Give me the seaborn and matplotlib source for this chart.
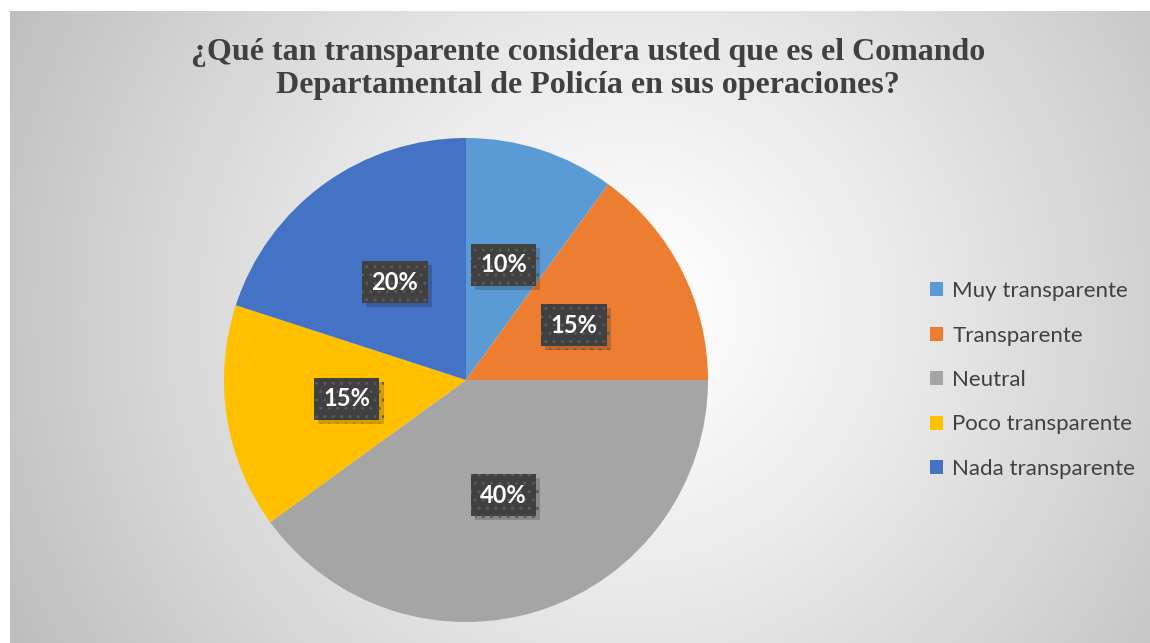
import matplotlib as mpl
import matplotlib.pyplot as plt
import matplotlib.patheffects as pe
from matplotlib.patches import Patch
import seaborn as sns
import numpy as np

sns.set_theme(style="white")
plt.rcParams['font.family'] = ['Lato', 'DejaVu Sans']

# Data
categories = ['Muy transparente', 'Transparente', 'Neutral', 'Poco transparente', 'Nada transparente']
values = [10, 15, 40, 15, 20]
colors = sns.color_palette(['#5B9BD5', '#ED7D31', '#A5A5A5', '#FFC000', '#4472C4'])
title = '¿Qué tan transparente considera usted que es el Comando\nDepartamental de Policía en sus operaciones?'

W, H = 1150, 643
fig = plt.figure(figsize=(W / 100, H / 100), dpi=100)
fig.patch.set_facecolor('white')

# Radial gradient background of the chart area
bg = fig.add_axes([10 / W, 0, (W - 10) / W, (H - 11) / H])
bg.set_axis_off()
yy, xx = np.mgrid[0:H - 11, 0:W - 10]
cx, cy = 620, 300
d = np.sqrt((xx - cx) ** 2 + (yy - cy) ** 2) / 650
g = np.clip(255 - 60 * d ** 1.2, 190, 255) / 255
bg.imshow(np.dstack([g, g, g]), aspect='auto', interpolation='bilinear')

# Pie
r = 242
pcx, pcy = 466, 380
ax = fig.add_axes([(pcx - r) / W, (H - pcy - r) / H, 2 * r / W, 2 * r / H])
wedges, texts, autotexts = ax.pie(values, colors=colors, startangle=90, counterclock=False,
                                  autopct='%1.0f%%', pctdistance=0.5,
                                  wedgeprops=dict(linewidth=0))
ax.set_xlim(-1, 1)
ax.set_ylim(-1, 1)
ax.set_aspect('auto')

for t in autotexts:
    t.set_color('white')
    t.set_fontweight('bold')
    t.set_fontsize(17)
    t.set_bbox(dict(boxstyle='square,pad=0.4', facecolor='#404040', edgecolor='#595959',
                    linewidth=0, hatch='..'))
    t.get_bbox_patch().set_path_effects([
        pe.SimplePatchShadow(offset=(3, -3), shadow_rgbFace='black', alpha=0.18),
        pe.Normal()])

# Title
fig.text(0.511, 1 - 69 / H, title, ha='center', va='center', fontsize=23,
         fontweight='bold', family=['Liberation Serif', 'DejaVu Serif'], color='#404040',
         linespacing=1.2)

# Legend
handles = [Patch(facecolor=c, edgecolor='none') for c in colors]
leg = fig.legend(handles, categories, loc='center left', bbox_to_anchor=(910 / W, 1 - 380 / H),
                 frameon=False, fontsize=16, handlelength=0.6, handleheight=0.6,
                 handletextpad=0.4, labelspacing=1.1)
for t in leg.get_texts():
    t.set_color('#404040')

plt.savefig('out.png', dpi=100)
